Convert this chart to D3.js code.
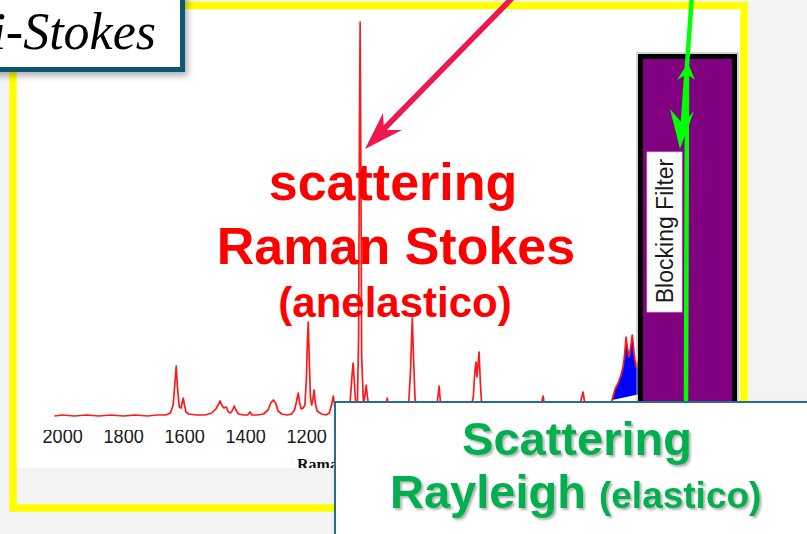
<!DOCTYPE html>
<html><head><meta charset="utf-8">
<script src="https://cdn.jsdelivr.net/npm/d3@7"></script>
<style>html,body{margin:0;padding:0;background:#f3f3f3;overflow:hidden}</style>
</head><body>
<svg id="c" width="807" height="534"></svg>
<script>
// ---- data ----
const shift = [2025,2000,1960,1920,1880,1840,1800,1760,1720,1690,1660,1645,1636,1630,1626,1622,1616,1610,1606,1603,1599,1594,1585,1560,1530,1510,1496,1487,1482,1477,1470,1462,1455,1448,1441,1436,1430,1422,1405,1392,1384,1378,1360,1340,1325,1316,1308,1300,1292,1280,1262,1248,1238,1232,1226,1221,1216,1210,1204,1199,1196,1193,1190,1186,1182,1178,1174,1170,1164,1150,1135,1124,1117,1111,1106,1100,1085,1065,1056,1050,1046,1042,1037,1032,1028,1025,1023,1021,1018,1012,1007,1003,999,994,980,960,945,938,934,930,922,900,875,864,858,852,848,843,835,810,785,770,764,759,752,720,680,662,652,647,643,640,637,633,629,624,615,590,540,480,445,432,427,423,418,412,380,340,305,298,292,287,280,250,220,205,197,187,177,168,161,156,151,146,141,136,131,128,125,121,118,112,105];
const counts = [1,2,1,2,1,2,1,2,1,2,2,4,12,35,51,30,10,9,15,19,12,5,3,2,2,4,8,13,16,12,9,10,5,4,7,11,7,3,2,2,5,2,2,3,7,14,17,14,6,3,2,3,7,15,24,14,8,9,12,40,75,95,60,20,12,17,27,14,6,3,2,4,12,21,10,4,3,4,14,40,54,35,10,12,80,300,395,280,60,12,22,32,20,8,4,3,5,12,19,10,4,3,4,12,45,99,60,18,5,3,4,15,31,12,4,3,4,6,20,45,55,40,50,65,35,10,4,3,3,3,4,10,16,21,10,4,3,3,6,18,25,15,5,3,4,8,17,28,34,42,50,62,80,68,60,70,82,75,64,55,50,55,60];
const rayleighRange = [197, 105];          // shift range filled in blue
const rayleighBase = [[105, 23], [197, 17]]; // lower edge of the blue fill
const tickValues = [2000,1800,1600,1400,1200]; // visible tick labels (rest hidden under the box)
const stokesLines = ["scattering", "Raman Stokes", "(anelastico)"];
const rayleighLines = ["Scattering", "Rayleigh", "(elastico)"];
const titleText = "Anti-Stokes";
const filterLabel = "Blocking Filter";
const axisTitle = "Raman Shift (cm-1)";

const svg = d3.select("#c");
const defs = svg.append("defs");
const sh = defs.append("filter").attr("id","shadow").attr("x","-20%").attr("y","-20%").attr("width","150%").attr("height","150%");
sh.append("feDropShadow").attr("dx",3).attr("dy",4).attr("stdDeviation",3).attr("flood-color","#000").attr("flood-opacity",0.3);
const ts = defs.append("filter").attr("id","tshadow").attr("x","-10%").attr("y","-20%").attr("width","130%").attr("height","150%");
ts.append("feDropShadow").attr("dx",2).attr("dy",2).attr("stdDeviation",1.2).attr("flood-color","#555").attr("flood-opacity",0.45);
defs.append("clipPath").attr("id","imgclip").append("rect").attr("x",17).attr("y",9).attr("width",723).attr("height",459);
defs.append("clipPath").attr("id","titleclip").append("rect").attr("x",17).attr("y",9).attr("width",318).attr("height",459);

// background slide + white picture area
svg.append("rect").attr("width",807).attr("height",534).attr("fill","#f3f3f3");
svg.append("rect").attr("x",13).attr("y",5).attr("width",731).attr("height",463).attr("fill","#fff");

// scales
const x = d3.scaleLinear().domain([2030,-100]).range([53, 702.65]);
const y = d3.scaleLinear().domain([0,400]).range([417,17]);

const pts = shift.map((s,i)=>[s,counts[i]]);

// axis
const gx = svg.append("g").attr("transform","translate(0,421)").attr("clip-path","url(#imgclip)")
  .call(d3.axisBottom(x).tickValues(tickValues).tickSize(0).tickSizeOuter(0).tickPadding(7).tickFormat(d=>String(d)));
gx.select(".domain").attr("stroke","#000").attr("stroke-width",3);
gx.selectAll(".tick text").attr("font-family","Liberation Sans, Arial, sans-serif").attr("font-size",21)
  .attr("fill","#1a1a1a").attr("transform","scale(0.86,1)");
svg.append("g").attr("clip-path","url(#titleclip)").append("text").attr("x",297).attr("y",470)
  .attr("font-family","Liberation Serif, serif").attr("font-weight","bold").attr("font-size",16).attr("fill","#111").text(axisTitle);

// blue Rayleigh fill
const rayTop = pts.filter(p=>p[0]<=rayleighRange[0] && p[0]>=rayleighRange[1]);
const poly = rayTop.concat(rayleighBase);
svg.append("path").attr("d", d3.line().x(d=>x(d[0])).y(d=>y(d[1]))(poly)+"Z").attr("fill","#0000ff");

// spectrum
svg.append("path").attr("d", d3.line().x(d=>x(d[0])).y(d=>y(d[1]))(pts))
  .attr("fill","none").attr("stroke","#ff1a1a").attr("stroke-width",1.7).attr("stroke-linejoin","round");

// red texts
const red = svg.append("g").attr("font-family","Liberation Sans, Arial, sans-serif").attr("font-weight","bold").attr("fill","#ff0000").attr("text-anchor","middle");
red.append("text").attr("x",393).attr("y",200).attr("font-size",52).text(stokesLines[0]);
red.append("text").attr("x",396).attr("y",264).attr("font-size",52).text(stokesLines[1]);
red.append("text").attr("x",395).attr("y",317).attr("font-size",42).text(stokesLines[2]);

// yellow frame
svg.append("rect").attr("x",13).attr("y",5.5).attr("width",731).attr("height",502.5)
  .attr("fill","none").attr("stroke","#ffff00").attr("stroke-width",7.5);

// blocking filter
svg.append("rect").attr("x",637).attr("y",53).attr("width",101).attr("height",400).attr("fill","none").attr("stroke","#aaa").attr("stroke-width",1);
svg.append("rect").attr("x",640.5).attr("y",56.5).attr("width",94).attr("height",400).attr("fill","#800080").attr("stroke","#000").attr("stroke-width",5);
svg.append("rect").attr("x",647).attr("y",152).attr("width",35).attr("height",160).attr("fill","#fff").attr("stroke","#ccc").attr("stroke-width",0.8);
svg.append("text").attr("transform","translate(673,231) rotate(-90)").attr("text-anchor","middle")
  .attr("font-family","Liberation Sans, Arial, sans-serif").attr("font-size",23).attr("fill","#1a1a1a").text(filterLabel);

// green laser arrows
const g = svg.append("g").attr("fill","#00ff00").attr("stroke","#00ff00");
g.append("line").attr("x1",692).attr("y1",-5).attr("x2",682).attr("y2",135).attr("stroke-width",4.5);
g.append("path").attr("d","M680,149 L670,109 L683,124 L694,111 Z").attr("stroke","none");
g.append("line").attr("x1",686).attr("y1",402).attr("x2",687).attr("y2",75).attr("stroke-width",4.5);
g.append("path").attr("d","M688,63 L677,80 L687,74 L695,80 Z").attr("stroke","none");

// pink arrow
svg.append("line").attr("x1",520).attr("y1",-10).attr("x2",380).attr("y2",133).attr("stroke","#ec1850").attr("stroke-width",5.5);
svg.append("path").attr("d","M365,149 L383,113 L384,130 L402,130 Z").attr("fill","#ec1850");

// title box
svg.append("rect").attr("x",-20).attr("y",-20).attr("width",202.5).attr("height",89.5)
  .attr("fill","#fff").attr("stroke","#0f5475").attr("stroke-width",5).attr("filter","url(#shadow)");
svg.append("text").attr("x",156).attr("y",49).attr("text-anchor","end")
  .attr("font-family","Liberation Serif, Times New Roman, serif").attr("font-style","italic").attr("font-size",52).attr("fill","#000").text(titleText);

// Rayleigh box
svg.append("rect").attr("x",335).attr("y",402).attr("width",500).attr("height",200)
  .attr("fill","#fff").attr("stroke","#2b6c8a").attr("stroke-width",2).attr("filter","url(#shadow)");
const gt = svg.append("g").attr("font-family","Liberation Sans, Arial, sans-serif").attr("font-weight","bold").attr("fill","#00b050").attr("filter","url(#tshadow)");
gt.append("text").attr("x",577).attr("y",455).attr("text-anchor","middle").attr("font-size",47).text(rayleighLines[0]);
const t2 = gt.append("text").attr("x",390).attr("y",508).attr("font-size",47);
t2.append("tspan").text(rayleighLines[1]+" ");
t2.append("tspan").attr("font-size",37).text(rayleighLines[2]);
</script>
</body></html>
